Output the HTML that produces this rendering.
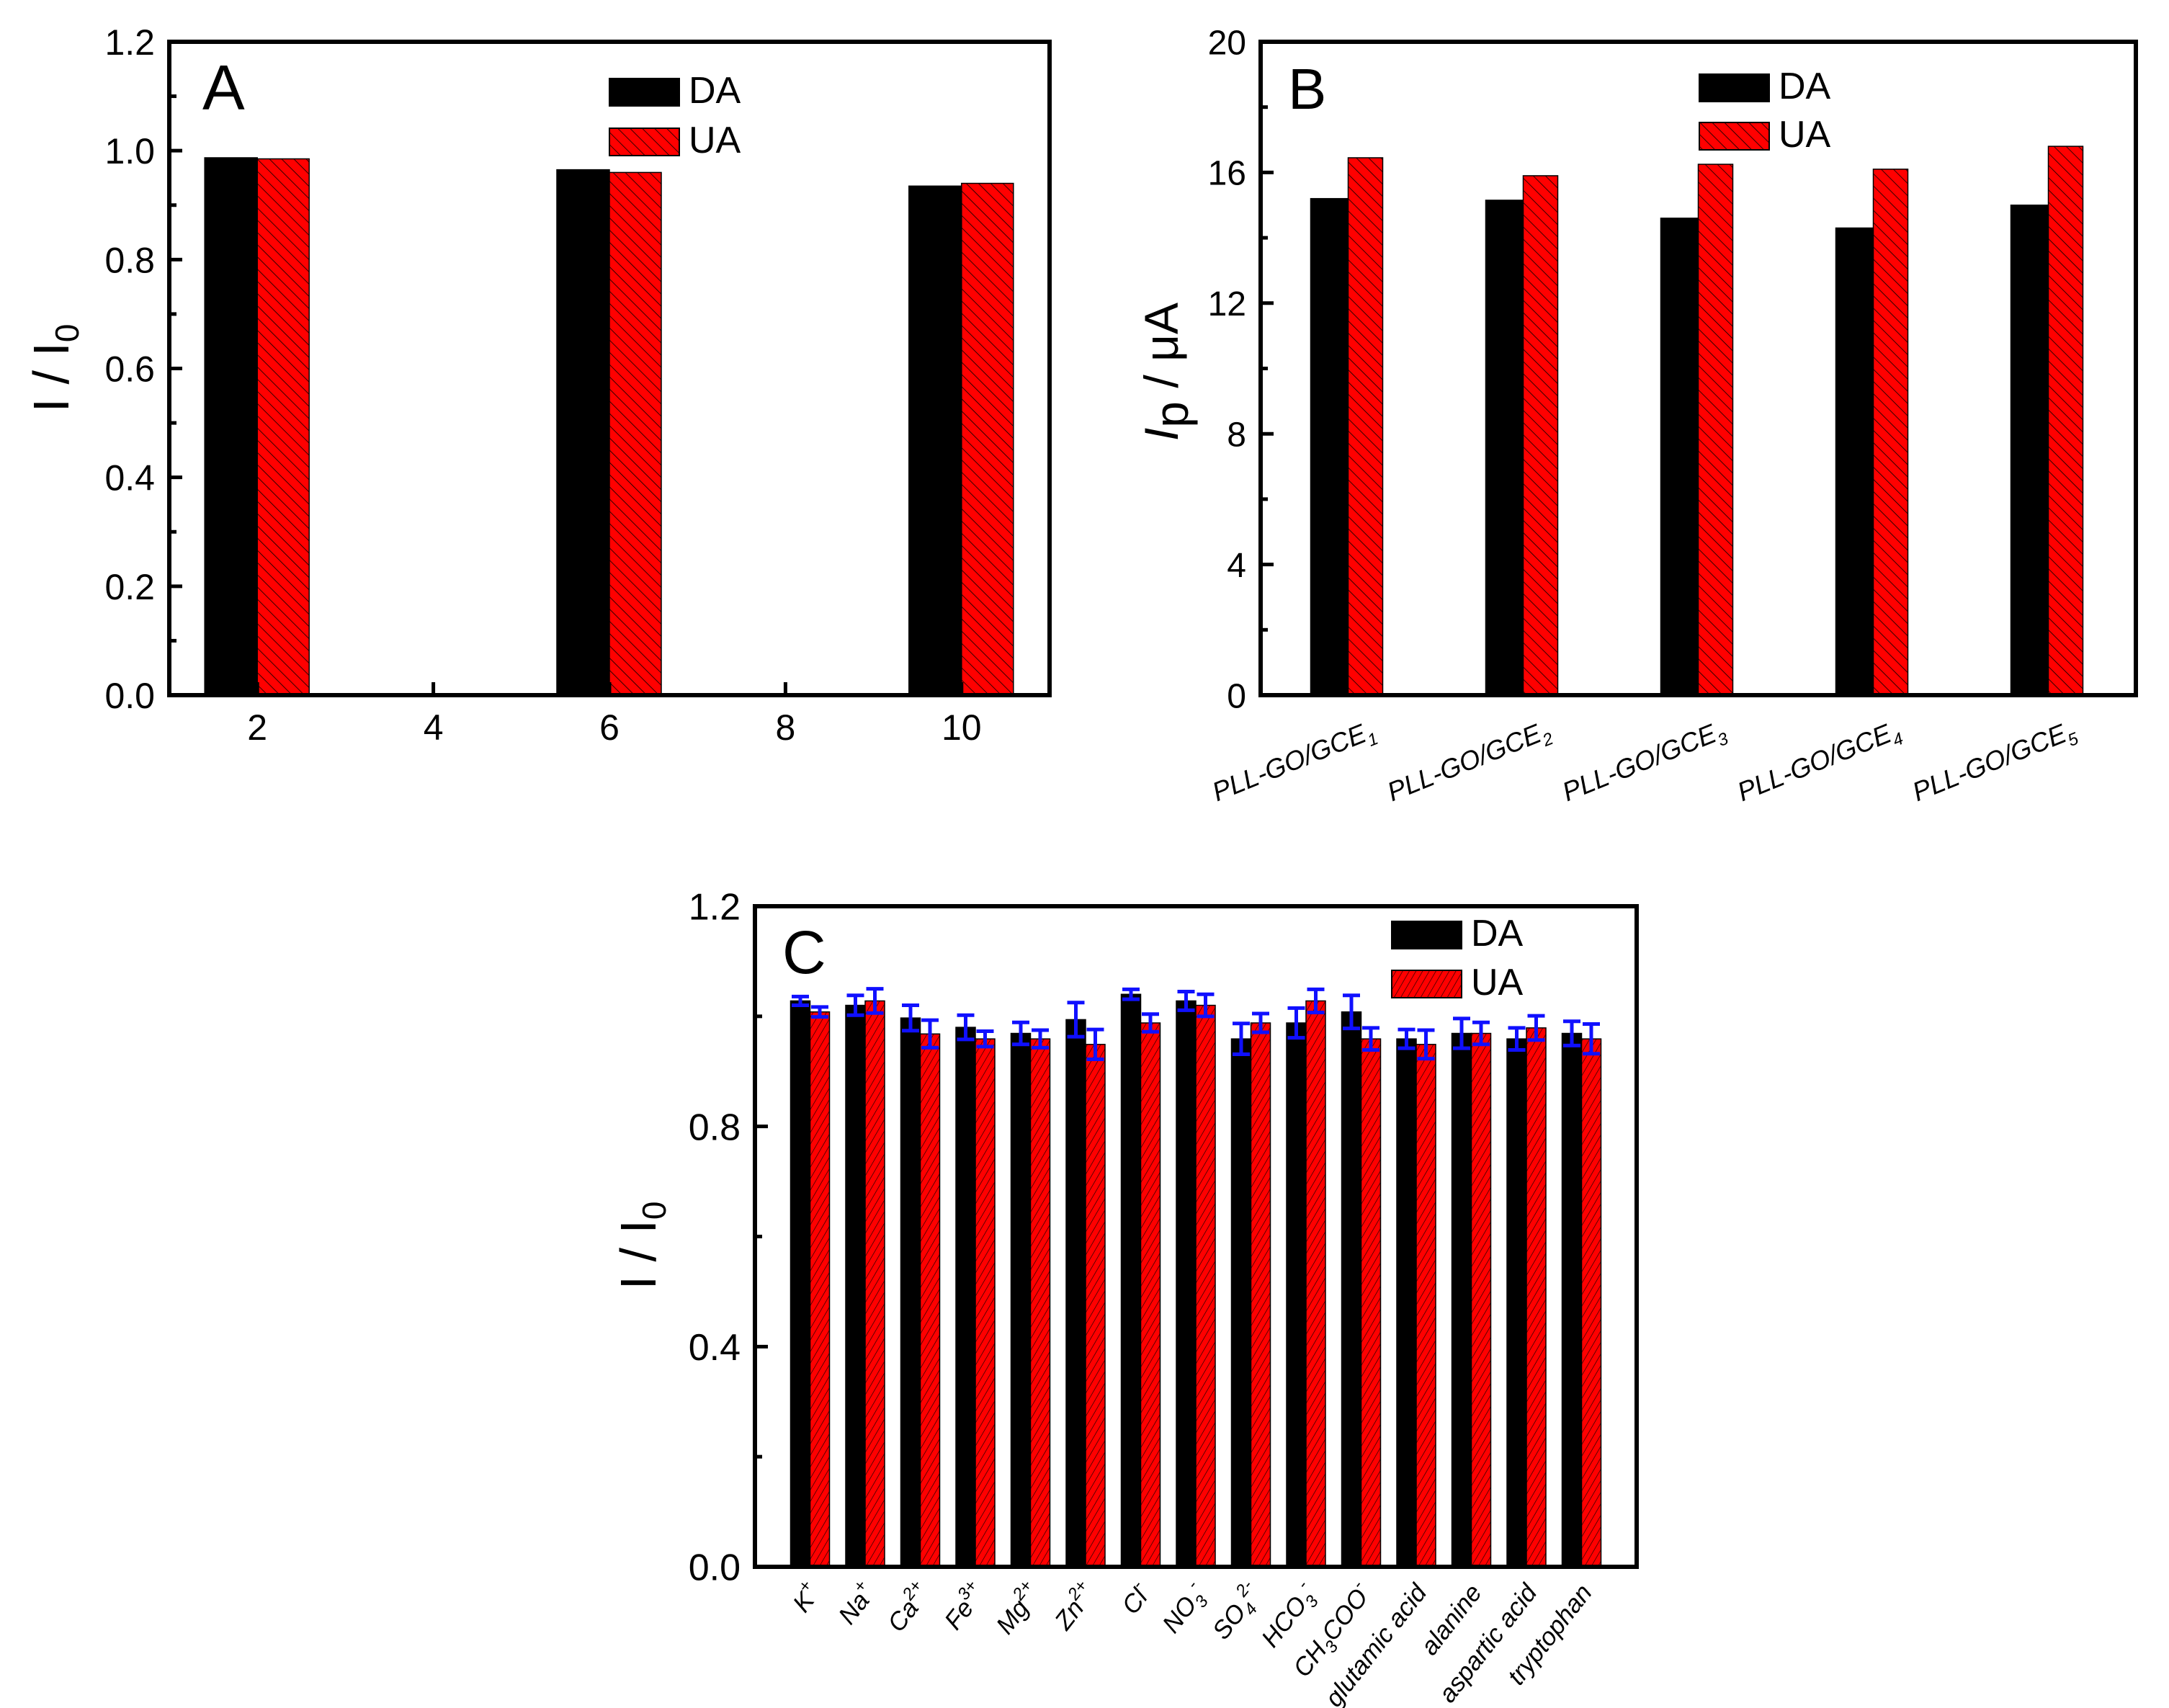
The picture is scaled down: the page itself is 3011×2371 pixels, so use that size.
<!DOCTYPE html>
<html><head><meta charset="utf-8"><style>
html,body{margin:0;padding:0;background:#fff}
svg{display:block;font-family:"Liberation Sans",sans-serif}
</style></head><body>
<svg id="fig" width="3011" height="2371" viewBox="0 0 3011 2371" xmlns="http://www.w3.org/2000/svg">
<defs>
<pattern id="hatchBack" patternUnits="userSpaceOnUse" width="12" height="12" patternTransform="rotate(-45)">
<rect width="12" height="12" fill="#ff0000"/><line x1="0" y1="0" x2="0" y2="12" stroke="#000" stroke-width="1.6"/></pattern>
<pattern id="hatchFwd" patternUnits="userSpaceOnUse" width="8" height="8" patternTransform="rotate(30)">
<rect width="8" height="8" fill="#ff0000"/><line x1="0" y1="0" x2="0" y2="8" stroke="#000" stroke-width="1.2"/></pattern>
</defs>
<g id="root"></g>
</svg>
<script>
// Panel A data
const aCats = [2, 6, 10];
const aDA = [0.987, 0.965, 0.935];
const aUA = [0.985, 0.960, 0.940];
const aYTicks = ["0.0","0.2","0.4","0.6","0.8","1.0","1.2"];
const aXTicks = [2, 4, 6, 8, 10];
// Panel B data
const bCats = [1, 2, 3, 4, 5];
const bLabels = ["1","2","3","4","5"];
const bDA = [15.2, 15.15, 14.6, 14.3, 15.0];
const bUA = [16.45, 15.9, 16.25, 16.1, 16.8];
const bYTicks = ["0","4","8","12","16","20"];
// Panel C data
const cLabels = [["K","+",""],["Na","+",""],["Ca","2+",""],["Fe","3+",""],["Mg","2+",""],["Zn","2+",""],["Cl","-",""],["NO","-","3"],["SO","2-","4"],["HCO","-","3"],["CH3COO","-",""],["glutamic acid","",""],["alanine","",""],["aspartic acid","",""],["tryptophan","",""]];
const cDA = [1.028,1.020,0.997,0.980,0.969,0.994,1.040,1.028,0.959,0.988,1.008,0.959,0.969,0.959,0.969];
const cUA = [1.008,1.028,0.968,0.959,0.959,0.949,0.988,1.020,0.988,1.028,0.959,0.949,0.969,0.979,0.959];
const cDAErr = [0.008,0.018,0.023,0.022,0.020,0.031,0.009,0.017,0.028,0.027,0.030,0.017,0.027,0.020,0.022];
const cUAErr = [0.009,0.022,0.025,0.014,0.016,0.027,0.016,0.020,0.017,0.021,0.020,0.026,0.020,0.022,0.027];
const cYTicks = ["0.0","0.4","0.8","1.2"];

const NS = "http://www.w3.org/2000/svg";
const root = document.getElementById("root");
function mk(tag, attrs, parent){const e=document.createElementNS(NS,tag);for(const k in attrs)e.setAttribute(k,attrs[k]);(parent||root).appendChild(e);return e;}
function lin(d0,d1,r0,r1){return v=>r0+(v-d0)/(d1-d0)*(r1-r0);}

function frame(L,R,T,B,name){
  const f=mk("rect",{x:L,y:T,width:R-L,height:B-T,fill:"none",stroke:"#000","stroke-width":6});
  
  
}
function yAxis(L,y,ticks,vals,minorVals,name,fs){
  vals.forEach((v,i)=>{
    mk("line",{x1:L,x2:L+18,y1:y(v),y2:y(v),stroke:"#000","stroke-width":5});
    const t=mk("text",{x:L-20,y:y(v)+fs*0.36,"font-size":fs,"text-anchor":"end"});
    t.textContent=ticks[i];
    
    
  });
  minorVals.forEach(v=>mk("line",{x1:L,x2:L+10,y1:y(v),y2:y(v),stroke:"#000","stroke-width":5}));
}
function legend(x,y1,y2,fill,fs){
  const r1=mk("rect",{x:x,y:y1,width:97,height:38,fill:"#000",stroke:"#000","stroke-width":2});
  
  
  const t1=mk("text",{x:x+110,y:y1+34,"font-size":fs});t1.textContent="DA";
  
  
  const r2=mk("rect",{x:x,y:y2,width:97,height:38,fill:fill,stroke:"#000","stroke-width":2});
  
  
  const t2=mk("text",{x:x+110,y:y2+34,"font-size":fs});t2.textContent="UA";
  
  
}
function bar(x,w,y0,y1,fill,name){
  const r=mk("rect",{x:x,y:y1,width:w,height:y0-y1,fill:fill,stroke:"#000","stroke-width":1.5});
  
  
}

// ---------- Panel A ----------
{
  const L=235,R=1457,T=58,B=965;
  const x=lin(1,11,L,R), y=lin(0,1.2,B,T);
  aCats.forEach((c,i)=>{
    bar(x(c)-73,73,B,y(aDA[i]),"#000","bar-a-da-"+c);
    bar(x(c),72,B,y(aUA[i]),"url(#hatchBack)","bar-a-ua-"+c);
  });
  frame(L,R,T,B,"panel-a");
  yAxis(L,y,aYTicks,[0,0.2,0.4,0.6,0.8,1.0,1.2],[0.1,0.3,0.5,0.7,0.9,1.1],"panel-a",50);
  aXTicks.forEach(v=>{
    mk("line",{x1:x(v),x2:x(v),y1:B,y2:B-18,stroke:"#000","stroke-width":5});
    const t=mk("text",{x:x(v),y:B+62,"font-size":50,"text-anchor":"middle"});t.textContent=v;
    
    
  });
  const lt=mk("text",{x:281,y:152,"font-size":88});lt.textContent="A";
  
  
  const yt=mk("text",{x:0,y:0,"font-size":70,"text-anchor":"middle",transform:"translate(95,511) rotate(-90)"});
  yt.innerHTML='I / I<tspan font-size="46" dy="14">0</tspan>';
  
  
  legend(846,109,178,"url(#hatchBack)",52);
}

// ---------- Panel B ----------
{
  const L=1750,R=2965,T=58,B=965;
  const x=lin(0.5,5.5,L,R), y=lin(0,20,B,T);
  bCats.forEach((c,i)=>{
    bar(x(c)-52,52,B,y(bDA[i]),"#000","bar-b-da-"+c);
    bar(x(c),48,B,y(bUA[i]),"url(#hatchBack)","bar-b-ua-"+c);
    const t=mk("text",{x:0,y:0,"font-size":37,"font-style":"italic","text-anchor":"end",transform:`translate(${x(c)+40},${B+58}) rotate(-22)`});
    t.innerHTML='PLL-GO/GCE<tspan font-size="24" dy="9">'+bLabels[i]+'</tspan>';
    
    
  });
  frame(L,R,T,B,"panel-b");
  yAxis(L,y,bYTicks,[0,4,8,12,16,20],[2,6,10,14,18],"panel-b",48);
  const lt=mk("text",{x:1788,y:151,"font-size":80});lt.textContent="B";
  
  
  const yt=mk("text",{x:0,y:0,"font-size":66,"text-anchor":"middle",transform:"translate(1635,516) rotate(-90)"});
  yt.innerHTML='<tspan font-style="italic">I</tspan><tspan dy="14">p</tspan><tspan dy="-14"> / μA</tspan>';
  
  
  legend(2359,103,170,"url(#hatchBack)",52);
}

// ---------- Panel C ----------
{
  const L=1048,R=2272,T=1258,B=2175;
  const x=lin(0,16,L,R), y=lin(0,1.2,B,T);
  cLabels.forEach((lab,i)=>{
    const c=i+1;
    bar(x(c)-27,27,B,y(cDA[i]),"#000","bar-c-da-"+c);
    bar(x(c),27,B,y(cUA[i]),"url(#hatchFwd)","bar-c-ua-"+c);
  });
  cLabels.forEach((lab,i)=>{
    const c=i+1;
    [[x(c)-13.5,cDA[i],cDAErr[i],"da"],[x(c)+13.5,cUA[i],cUAErr[i],"ua"]].forEach(([cx,v,e,s])=>{
      const g=mk("g",{stroke:"#1010ff","stroke-width":5});
      
      
      mk("line",{x1:cx,x2:cx,y1:y(v+e),y2:y(v-e)},g);
      mk("line",{x1:cx-12,x2:cx+12,y1:y(v+e),y2:y(v+e)},g);
      mk("line",{x1:cx-12,x2:cx+12,y1:y(v-e),y2:y(v-e)},g);
    });
    const t=mk("text",{x:0,y:0,"font-size":35,"font-style":"italic","text-anchor":"end",transform:`translate(${x(c)+16},${B+36}) rotate(-52)`});
    let html=lab[0]==="CH3COO"?'CH<tspan font-size="24" dy="9">3</tspan><tspan dy="-9">COO</tspan>':lab[0];
    if(lab[2]) html+='<tspan font-size="24" dy="9">'+lab[2]+'</tspan><tspan font-size="24" dy="-25">'+lab[1]+'</tspan>';
    else if(lab[1]) html+='<tspan font-size="24" dy="-16">'+lab[1]+'</tspan>';
    t.innerHTML=html;
    
    
  });
  frame(L,R,T,B,"panel-c");
  yAxis(L,y,cYTicks,[0,0.4,0.8,1.2],[0.2,0.6,1.0],"panel-c",52);
  const lt=mk("text",{x:1086,y:1351,"font-size":84});lt.textContent="C";
  
  
  const yt=mk("text",{x:0,y:0,"font-size":70,"text-anchor":"middle",transform:"translate(910,1729) rotate(-90)"});
  yt.innerHTML='I / I<tspan font-size="46" dy="14">0</tspan>';
  
  
  legend(1932,1279,1347,"url(#hatchFwd)",52);
}
</script>
</body></html>
